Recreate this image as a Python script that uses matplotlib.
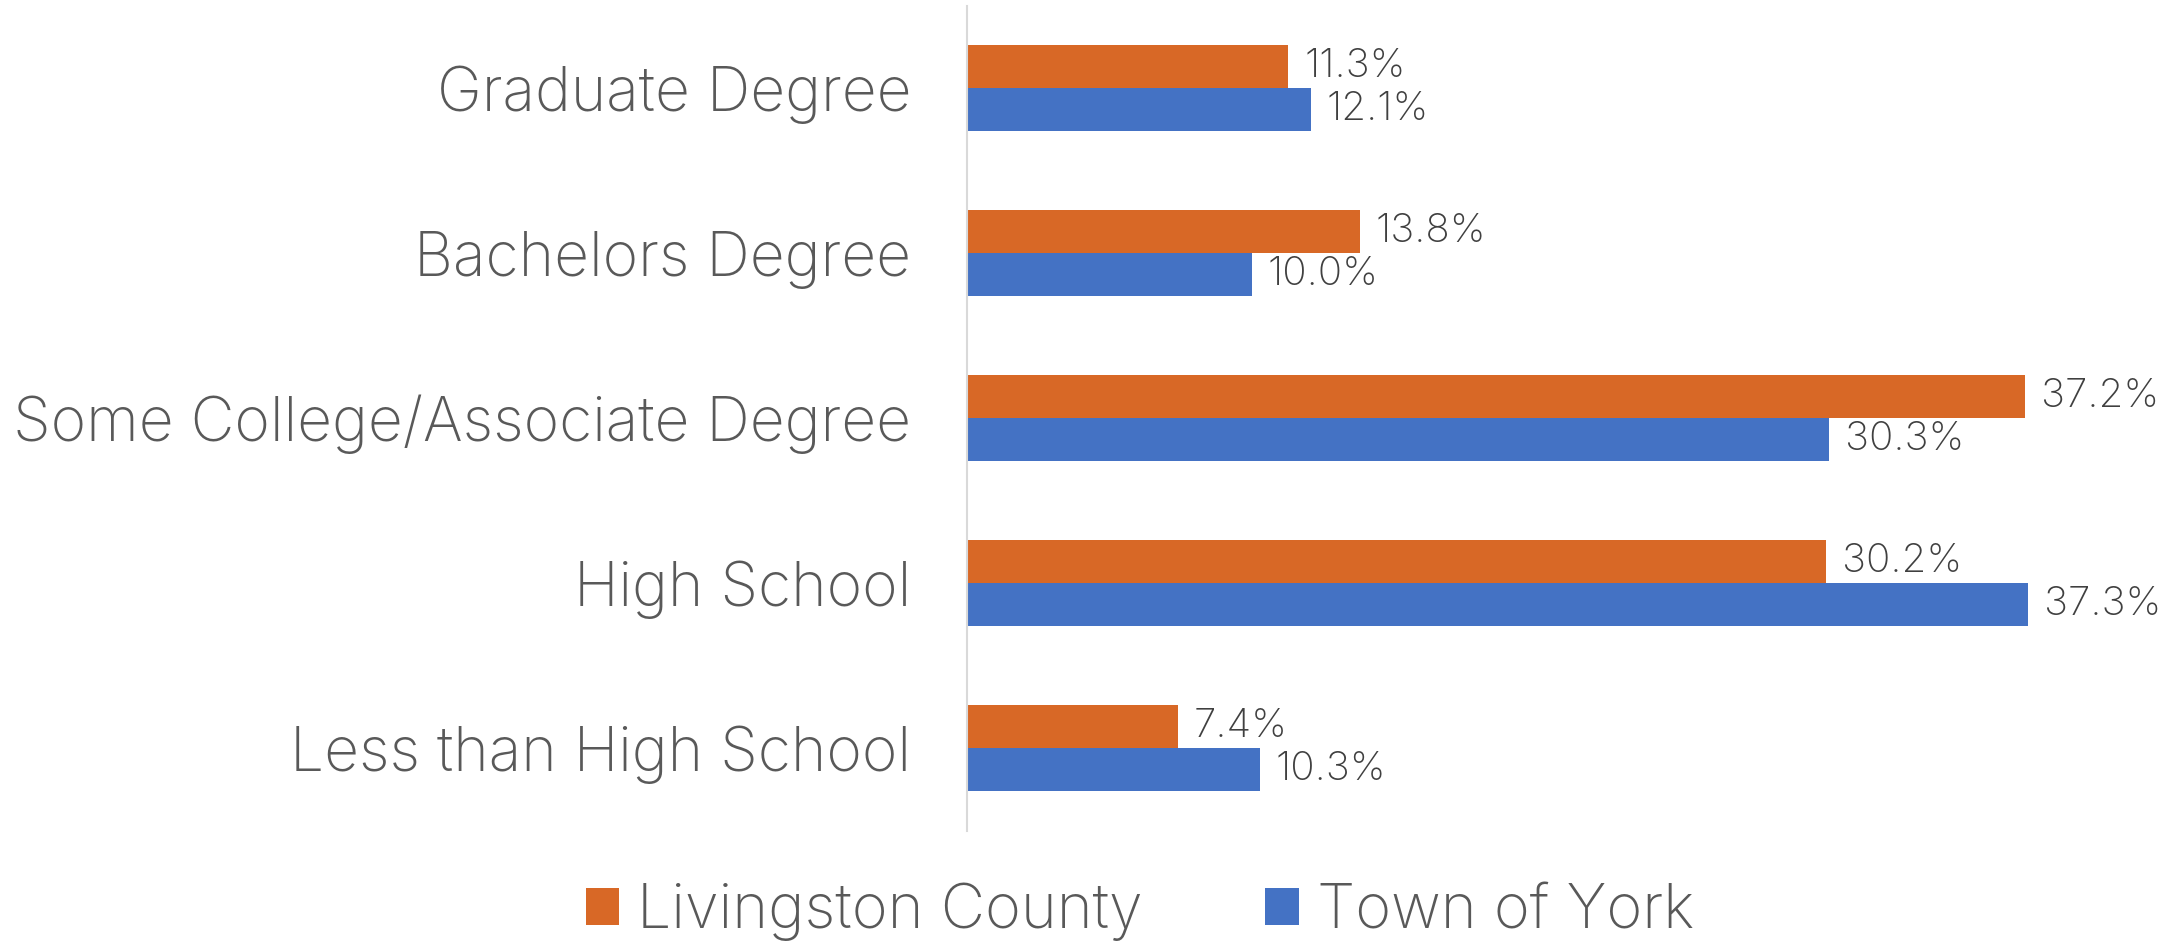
import numpy as np
import matplotlib.pyplot as plt

# Data (top to bottom as shown)
categories = ['Graduate Degree', 'Bachelors Degree', 'Some College/Associate Degree',
              'High School', 'Less than High School']
livingston = [11.3, 13.8, 37.2, 30.2, 7.4]
york = [12.1, 10.0, 30.3, 37.3, 10.3]
series_names = ['Livingston County', 'Town of York']

orange = '#D86826'
blue = '#4472C4'

plt.rcParams['font.family'] = ['Inter', 'DejaVu Sans']

fig = plt.figure(figsize=(21.84, 9.48), dpi=100)
ax = fig.add_axes([967 / 2184, 1 - 830.5 / 948, 1200 / 2184, 825 / 948])

y = np.arange(len(categories))
h = 0.26
ax.barh(y - h / 2, livingston, height=h, color=orange, label=series_names[0])
ax.barh(y + h / 2, york, height=h, color=blue, label=series_names[1])

for vals, off in [(livingston, -h / 2), (york, h / 2)]:
    for yi, v in zip(y, vals):
        ax.text(v + 0.55, yi + off, f'{v:.1f}%', va='center', ha='left',
                fontsize=29, color='#404040', fontweight='light')

ax.set_ylim(len(categories) - 0.5, -0.5)
ax.set_xlim(0, 1200 / 28.45)
ax.set_yticks(y)
ax.set_yticklabels(categories, fontsize=43.5, color='#595959', fontweight='light')
ax.tick_params(axis='y', length=0, pad=40)
ax.set_xticks([])
for s in ['top', 'right', 'bottom']:
    ax.spines[s].set_visible(False)
ax.spines['left'].set_color('#D9D9D9')
ax.spines['left'].set_linewidth(1.5)

fig.legend(loc='center', bbox_to_anchor=(1140 / 2184, 1 - 912 / 948), ncol=2,
           frameon=False, prop={'size': 44, 'weight': 'light'}, labelcolor='#595959',
           handlelength=0.55, handleheight=0.55, handletextpad=0.3,
           columnspacing=2.0)

fig.savefig('out.png', dpi=100)
